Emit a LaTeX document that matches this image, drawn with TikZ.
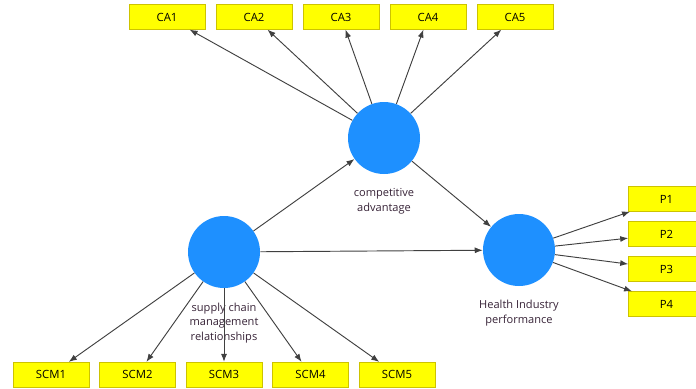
\documentclass[tikz,border=0pt]{standalone}
\usepackage{fontspec}
\setmainfont{Open Sans}
\usetikzlibrary{arrows.meta}
\definecolor{lvblue}{RGB}{30,144,255}
\definecolor{itemyellow}{RGB}{255,255,0}
\definecolor{itemedge}{RGB}{205,195,0}
\definecolor{labeltext}{RGB}{55,35,55}
\tikzset{
  >={Latex[length=6pt,width=4.5pt]},
}

\begin{document}
\begin{tikzpicture}[x=0.75pt, y=-0.75pt,
    item/.style={draw=itemedge, fill=itemyellow, minimum width=57pt, minimum height=18.5pt, inner sep=0pt, font=\fontsize{8.5}{9}\selectfont},
    latent/.style={circle, fill=lvblue, minimum size=54pt, inner sep=0pt},
    caption/.style={align=center, text=labeltext, font=\fontsize{8.3}{11}\selectfont, inner sep=0pt},
    path/.style={->, draw=black!75, line width=0.7pt}]
  \useasboundingbox (0,0) rectangle (696,389);

  % latent variables
  \node [latent] (ca) at (384,138) {};
  \node [latent] (scm) at (224,252) {};
  \node [latent] (hip) at (519,250) {};

  \node [caption] (ca-text) at (384,201) {competitive\\advantage};
  \node [caption] (scm-text) at (224,323) {supply chain\\management\\relationships};
  \node [caption] (hip-text) at (519,313) {Health Industry\\performance};

  % indicators
  \foreach \i/\x in {1/167, 2/254, 3/341, 4/428, 5/515}
    \node [item] (ca\i) at (\x,17) {CA\i};
  \foreach \i/\x in {1/51, 2/137.5, 3/224, 4/310.5, 5/397}
    \node [item] (scm\i) at (\x,374.5) {SCM\i};
  \foreach \i/\y in {1/199, 2/234, 3/269, 4/304}
    \node [item] (p\i) at (666.5,\y) {P\i};

  % structural model
  \draw [path] (scm) -- (ca);
  \draw [path] (scm) -- (hip);
  \draw [path] (ca) -- (hip);

  % measurement model
  \foreach \i in {1,...,5} {
    \draw [path] (ca) -- (ca\i);
    \draw [path] (scm) -- (scm\i);
  }
  \foreach \i in {1,...,4}
    \draw [path] (hip) -- (p\i);
\end{tikzpicture}
\end{document}
